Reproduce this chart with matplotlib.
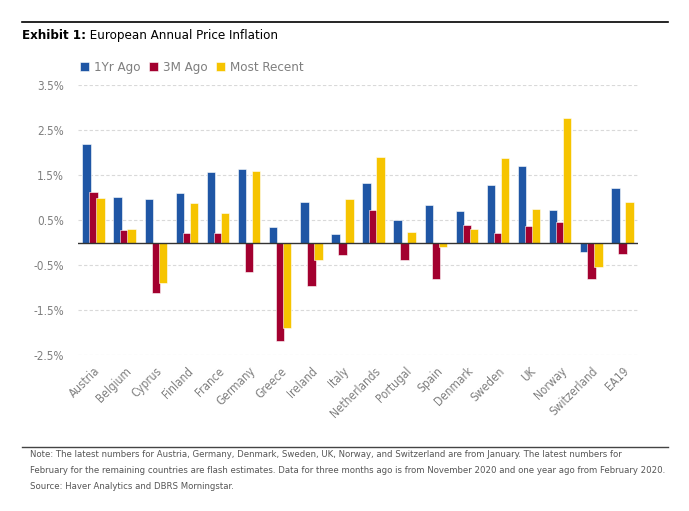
import matplotlib
matplotlib.use("Agg")
import matplotlib.pyplot as plt
import numpy as np
from matplotlib.lines import Line2D

plt.rcParams['font.family'] = ['DejaVu Sans']
plt.rcParams['font.stretch'] = 'condensed'

countries = ["Austria", "Belgium", "Cyprus", "Finland", "France", "Germany", "Greece",
             "Ireland", "Italy", "Netherlands", "Portugal", "Spain", "Denmark", "Sweden",
             "UK", "Norway", "Switzerland", "EA19"]
yr_ago = [2.18, 1.01, 0.96, 1.11, 1.57, 1.63, 0.35, 0.89, 0.19, 1.32,
          0.49, 0.84, 0.69, 1.27, 1.69, 0.72, -0.22, 1.21]
m3_ago = [1.12, 0.27, -1.12, 0.21, 0.21, -0.65, -2.19, -0.97, -0.28, 0.73,
          -0.39, -0.82, 0.38, 0.22, 0.37, 0.45, -0.82, -0.26]
recent = [0.98, 0.29, -0.91, 0.87, 0.66, 1.60, -1.89, -0.38, 0.97, 1.90,
          0.24, -0.10, 0.29, 1.87, 0.74, 2.76, -0.54, 0.90]
yticks = [-2.5, -1.5, -0.5, 0.5, 1.5, 2.5, 3.5]

blue = "#1f56a5"
red = "#a3002f"
yellow = "#f6c400"
gray = "#7f7f7f"

fig = plt.figure(figsize=(6.89, 5.11), dpi=100)
ax = fig.add_axes([78 / 689, 1 - 355 / 511, 560 / 689, 270 / 511])

x = np.arange(len(countries))
off = 0.225
w = 0.27
ax.bar(x - off, yr_ago, w, color=blue, edgecolor="white", linewidth=0.4, zorder=3, label="1Yr Ago")
ax.bar(x, m3_ago, w, color=red, edgecolor="white", linewidth=0.4, zorder=4, label="3M Ago")
ax.bar(x + off, recent, w, color=yellow, edgecolor="white", linewidth=0.4, zorder=5, label="Most Recent")

ax.set_xlim(-0.5, len(countries) - 0.5)
ax.set_ylim(-2.5, 3.5)
ax.set_yticks(yticks)
ax.set_yticklabels([f"{v:.1f}%" for v in yticks], color=gray, fontsize=8.5)
ax.yaxis.grid(True, linestyle=(0, (3, 2)), color="#d9d9d9", linewidth=0.8, zorder=0)
ax.axhline(0, color="#333333", linewidth=1.0, zorder=6)
ax.set_xticks(x)
ax.set_xticklabels(countries, rotation=45, ha="right", rotation_mode="anchor",
                   color=gray, fontsize=8.5)
ax.tick_params(length=0, pad=7)
ax.tick_params(axis="y", pad=10)
for s in ax.spines.values():
    s.set_visible(False)

ax.legend(loc="lower left", bbox_to_anchor=(-0.016, 1.0), ncol=3, frameon=False,
          handlelength=0.7, handleheight=0.7, handletextpad=0.4, columnspacing=0.6,
          fontsize=9.5, labelcolor=gray, borderaxespad=0.4)

# rules and titles
fig.add_artist(Line2D([22 / 689, 668 / 689], [1 - 22 / 511, 1 - 22 / 511], color="black", linewidth=1.2))
fig.add_artist(Line2D([22 / 689, 668 / 689], [1 - 447 / 511, 1 - 447 / 511], color="#444444", linewidth=1.0))
t1 = fig.text(22 / 689, 1 - 35 / 511, "Exhibit 1:", fontsize=9.5, fontweight="bold", va="center")
ax.annotate(" European Annual Price Inflation", xy=(1, 0.5), xycoords=t1,
            va="center", fontsize=9.5, annotation_clip=False)

note = ("Note: The latest numbers for Austria, Germany, Denmark, Sweden, UK, Norway, and Switzerland are from January. The latest numbers for\n"
        "February for the remaining countries are flash estimates. Data for three months ago is from November 2020 and one year ago from February 2020.\n"
        "Source: Haver Analytics and DBRS Morningstar.")
fig.text(30 / 689, 1 - 450 / 511, note, fontsize=6.8, color="#555555", va="top", linespacing=2.0)

fig.savefig("out.png", dpi=100)
